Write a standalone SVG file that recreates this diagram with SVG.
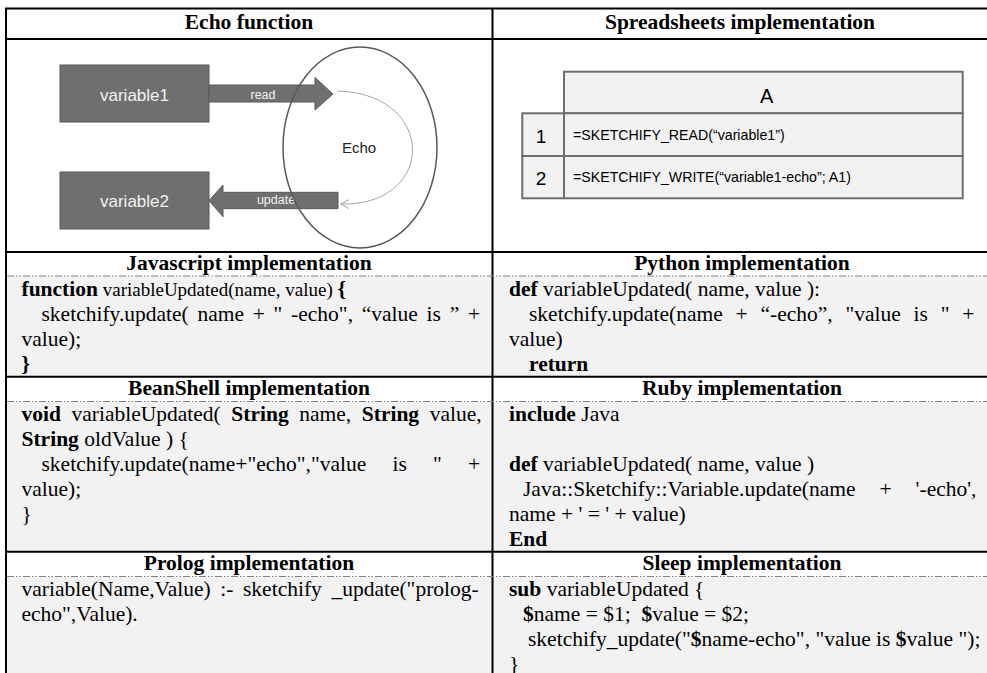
<svg xmlns="http://www.w3.org/2000/svg" width="987" height="673" viewBox="0 0 987 673">
<defs>
<marker id="open" markerWidth="12" markerHeight="12" refX="10" refY="6" orient="auto" markerUnits="userSpaceOnUse">
<path d="M2,1.5 L10,6 L2,10.5" fill="none" stroke="#a6a6a6" stroke-width="1"/>
</marker>
</defs>
<style>
.t{font-family:"Liberation Serif","Times New Roman",serif;font-size:21.5px;fill:#000}
.h{font-weight:bold;text-anchor:middle}
.b{font-weight:bold}
.sm{font-size:19px}
.s{font-family:"Liberation Sans",Arial,sans-serif}
.grid{stroke:#000;stroke-width:2;fill:none}
.dd{stroke:#808080;stroke-width:1;stroke-dasharray:7 2 1.5 2 1.5 2;fill:none}
.code{fill:#f2f2f2}
.box{fill:#6f6f6f;stroke:#595959;stroke-width:1}
.bt{fill:#f2f2f2;font-size:17px;text-anchor:middle}
.at{fill:#f2f2f2;font-size:12.5px;text-anchor:middle}
.cell{fill:#f2f2f2;stroke:#6e6e6e;stroke-width:2}
</style>
<rect x="0" y="0" width="987" height="673" fill="#fff"/>
<g id="shading">
<rect class="code" x="7" y="276" width="980" height="100"/>
<rect class="code" x="7" y="401.5" width="980" height="149.5"/>
<rect class="code" x="7" y="576.5" width="980" height="97"/>
</g>
<g id="table-lines">
<path class="grid" d="M5,8.5 H987 M6,7.5 V673 M492.5,8.5 V673 M5,39 H987 M5,252 H987 M5,376.7 H987 M5,551.7 H987"/>
<path class="dd" d="M7,276 H987 M7,401.5 H987 M7,576.5 H987"/>
</g>
<g id="header-echo"><text class="t h" x="249" y="29">Echo function</text></g>
<g id="header-spreadsheets"><text class="t h" x="740" y="29">Spreadsheets implementation</text></g>
<g id="echo-diagram">
<g id="variable1"><rect class="box" x="60" y="65" width="149" height="57"/><text class="s bt" x="134.5" y="101">variable1</text></g>
<g id="variable2"><rect class="box" x="60" y="172" width="149" height="57"/><text class="s bt" x="134.5" y="207">variable2</text></g>
<g id="connectors">
<polygon class="box" points="209,85 315,85 315,77.5 333,94 315,110 315,102 209,102"/>
<text class="s at" x="263" y="98.5">read</text>
<polygon class="box" points="338,192.3 223,192.3 223,185 209,200.5 223,216.7 223,208.7 338,208.7"/>
<text class="s at" x="276" y="204">update</text>
<path d="M337,91 C437,93 437,206 341,204" fill="none" stroke="#a6a6a6" stroke-width="1" marker-end="url(#open)"/>
</g>
<g id="echo"><ellipse cx="360" cy="147.5" rx="77" ry="100.5" fill="none" stroke="#595959" stroke-width="1.5"/><text class="s" x="342" y="152.7" font-size="15" fill="#222">Echo</text></g>
</g>
<g id="spreadsheet">
<rect class="cell" x="564" y="71.7" width="398.7" height="41.6"/>
<rect class="cell" x="522.3" y="113.3" width="440.4" height="42.7"/>
<rect class="cell" x="522.3" y="156" width="440.4" height="42.3"/>
<path d="M564,113.3 V198.3" stroke="#6e6e6e" stroke-width="2"/>
<text class="s" x="766.7" y="103" font-size="20" text-anchor="middle">A</text>
<text class="s" x="541" y="142.5" font-size="19" text-anchor="middle">1</text>
<text class="s" x="541" y="184.5" font-size="19" text-anchor="middle">2</text>
<text class="s" x="573" y="140" font-size="14.2">=SKETCHIFY_READ(“variable1”)</text>
<text class="s" x="573" y="182" font-size="14.2">=SKETCHIFY_WRITE(“variable1-echo”; A1)</text>
</g>
<g id="javascript">
<text class="t h" x="249" y="270">Javascript implementation</text>
<text class="t" x="21.5" y="295.5"><tspan class="b">function</tspan><tspan class="sm"> variableUpdated(name, value) </tspan><tspan class="b">{</tspan></text>
<text class="t" x="41.5" y="320.5" style="word-spacing:3.35px">sketchify.update( name + " -echo", “value is ” +</text>
<text class="t" x="21.5" y="345.5">value);</text>
<text class="t b" x="21.5" y="370.5">}</text>
</g>
<g id="python">
<text class="t h" x="742" y="270">Python implementation</text>
<text class="t" x="509" y="295.5"><tspan class="b">def</tspan> variableUpdated( name, value ):</text>
<text class="t" x="529" y="320.5" style="word-spacing:7.4px">sketchify.update(name + “-echo”, "value is " +</text>
<text class="t" x="509" y="345.5">value)</text>
<text class="t b" x="529" y="370.5">return</text>
</g>
<g id="beanshell">
<text class="t h" x="249" y="395">BeanShell implementation</text>
<text class="t" x="21.5" y="420.5" style="word-spacing:5.2px"><tspan class="b">void</tspan> variableUpdated( <tspan class="b">String</tspan> name, <tspan class="b">String</tspan> value,</text>
<text class="t" x="21.5" y="445.5"><tspan class="b">String</tspan> oldValue ) {</text>
<text class="t" x="41.5" y="470.5" style="word-spacing:20.8px">sketchify.update(name+"echo","value is " +</text>
<text class="t" x="21.5" y="495.5">value);</text>
<text class="t" x="21.5" y="520.5">}</text>
</g>
<g id="ruby">
<text class="t h" x="742" y="395">Ruby implementation</text>
<text class="t" x="509" y="420.5"><tspan class="b">include</tspan> Java</text>
<text class="t" x="509" y="470.5"><tspan class="b">def</tspan> variableUpdated( name, value )</text>
<text class="t" x="523" y="495.5" style="word-spacing:18.6px">Java::Sketchify::Variable.update(name + '-echo',</text>
<text class="t" x="509" y="520.5">name + ' = ' + value)</text>
<text class="t b" x="509" y="545.5">End</text>
</g>
<g id="prolog">
<text class="t h" x="249" y="570">Prolog implementation</text>
<text class="t" x="21.5" y="595.5" style="word-spacing:4.2px">variable(Name,Value) :- sketchify _update("prolog-</text>
<text class="t" x="21.5" y="620.5">echo",Value).</text>
</g>
<g id="sleep">
<text class="t h" x="742" y="570">Sleep implementation</text>
<text class="t" x="509" y="595.5"><tspan class="b">sub</tspan> variableUpdated {</text>
<text class="t" x="523" y="620.5" xml:space="preserve"><tspan class="b">$</tspan>name = $1;  <tspan class="b">$</tspan>value = $2;</text>
<text class="t" x="528" y="645.5">sketchify_update("<tspan class="b">$</tspan>name-echo", "value is <tspan class="b">$</tspan>value ");</text>
<text class="t" x="509" y="670.5">}</text>
</g>
</svg>
